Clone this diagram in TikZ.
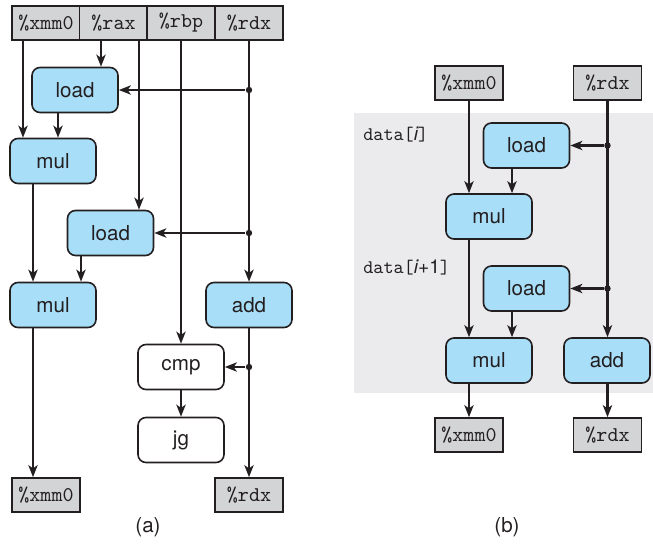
\documentclass[tikz,border=0pt]{standalone}
\usepackage{fontspec}
\setsansfont{TeX Gyre Heros}
\usetikzlibrary{positioning, arrows.meta, calc}
\definecolor{opblue}{HTML}{A9DEF8}
\definecolor{reggray}{HTML}{D3D4D6}
\definecolor{loopbg}{HTML}{EBEBEE}
\definecolor{ink}{HTML}{231F20}

\begin{document}
\begin{tikzpicture}[x=0.5pt, y=-0.5pt,
    every node/.style={font=\sffamily\fontsize{10.3}{12}\selectfont, text=ink},
    op/.style={rectangle, rounded corners=4pt, draw=ink, line width=0.8pt,
      fill=opblue, minimum width=43pt, minimum height=22.5pt, inner sep=0pt},
    ctl/.style={op, fill=white},
    reg/.style={rectangle, draw=ink, line width=0.8pt, fill=reggray,
      minimum width=34pt, minimum height=17pt, inner sep=0pt,
      font=\ttfamily\fontsize{10.5}{12}\selectfont},
    tag/.style={anchor=west, inner sep=0pt, font=\ttfamily\fontsize{9.6}{12}\selectfont},
    arr/.style={-{Stealth[length=6pt, width=4.6pt, inset=1.6pt]}, line width=1.1pt, draw=ink},
    dot/.style={circle, fill=ink, inner sep=0pt, minimum size=3.2pt}]
  \useasboundingbox (0,0) rectangle (653,547);

  % (a) two iterations, straight code
  \node[reg] (xa) at (46,23) {\%xmm0};
  \node[reg] (raxa) at (113.5,23) {\%rax};
  \node[reg] (rbpa) at (181,23) {\%rbp};
  \node[reg] (rdxa) at (249,23) {\%rdx};
  \node[op] (lda) at (75,90) {load};
  \node[op] (mula) at (53,161) {mul};
  \node[op] (ldb) at (110.5,233) {load};
  \node[op] (mulb) at (53,305) {mul};
  \node[op] (adda) at (249,305) {add};
  \node[ctl] (cmpa) at (181,367) {cmp};
  \node[ctl] (jga) at (181,440) {jg};
  \node[reg] (xoa) at (46,495) {\%xmm0};
  \node[reg] (rdxoa) at (249,495) {\%rdx};
  \node (capa) at (148,527) {(a)};

  \coordinate (l1) at (23,0);
  \coordinate (l2) at (33,0);
  \coordinate (l3) at (58,0);
  \coordinate (l4) at (81,0);
  \coordinate (l5) at (101,0);
  \coordinate (l6) at (139,0);

  \draw[arr] (xa.south -| l1) -- (mula.north -| l1);
  \draw[arr] (raxa.south -| l5) -- (lda.north -| l5);
  \draw[arr] (lda.south -| l3) -- (mula.north -| l3);
  \draw[arr] (raxa.south -| l6) -- (ldb.north -| l6);
  \draw[arr] (mula.south -| l2) -- (mulb.north -| l2);
  \draw[arr] (ldb.south -| l4) -- (mulb.north -| l4);
  \draw[arr] (mulb.south -| l2) -- (xoa.north -| l2);
  \draw[arr] (rbpa) -- (cmpa);
  \draw[arr] (cmpa) -- (jga);
  \draw[arr] (rdxa) -- (adda);
  \draw[arr] (adda) -- (rdxoa);
  \node[dot] (da1) at (rdxa |- lda) {};
  \node[dot] (da2) at (rdxa |- ldb) {};
  \node[dot] (da3) at (rdxa |- cmpa) {};
  \draw[arr] (da1) -- (lda);
  \draw[arr] (da2) -- (ldb);
  \draw[arr] (da3) -- (cmpa);

  % (b) loop body
  \fill[loopbg] (354,113) rectangle (653,393);
  \node[reg] (xb) at (469,83) {\%xmm0};
  \node[reg] (rdxb) at (607.5,83) {\%rdx};
  \node[op] (ldc) at (526.5,145.5) {load};
  \node[op] (mulc) at (489,216.5) {mul};
  \node[op] (ldd) at (526.5,288.5) {load};
  \node[op] (muld) at (489,360.5) {mul};
  \node[op] (addb) at (607,360.5) {add};
  \node[reg] (xob) at (469,435) {\%xmm0};
  \node[reg] (rdxob) at (607.5,435) {\%rdx};
  \node[tag] (tagi) at (363,135) {data[{\sffamily\itshape i}]};
  \node[tag] (tagj) at (363,267) {data[{\sffamily\itshape i}{\sffamily +1}]};
  \node (capb) at (507,527) {(b)};

  \coordinate (m1) at (512,0);

  \draw[arr] (xb.south) -- (mulc.north -| xb);
  \draw[arr] (ldc.south -| m1) -- (mulc.north -| m1);
  \draw[arr] (mulc.south -| xb) -- (muld.north -| xb);
  \draw[arr] (ldd.south -| m1) -- (muld.north -| m1);
  \draw[arr] (muld.south -| xob) -- (xob.north);
  \draw[arr] (rdxb.south) -- (addb.north -| rdxb);
  \draw[arr] (addb.south -| rdxob) -- (rdxob.north);
  \node[dot] (db1) at (rdxb |- ldc) {};
  \node[dot] (db2) at (rdxb |- ldd) {};
  \draw[arr] (db1) -- (ldc);
  \draw[arr] (db2) -- (ldd);
\end{tikzpicture}
\end{document}
